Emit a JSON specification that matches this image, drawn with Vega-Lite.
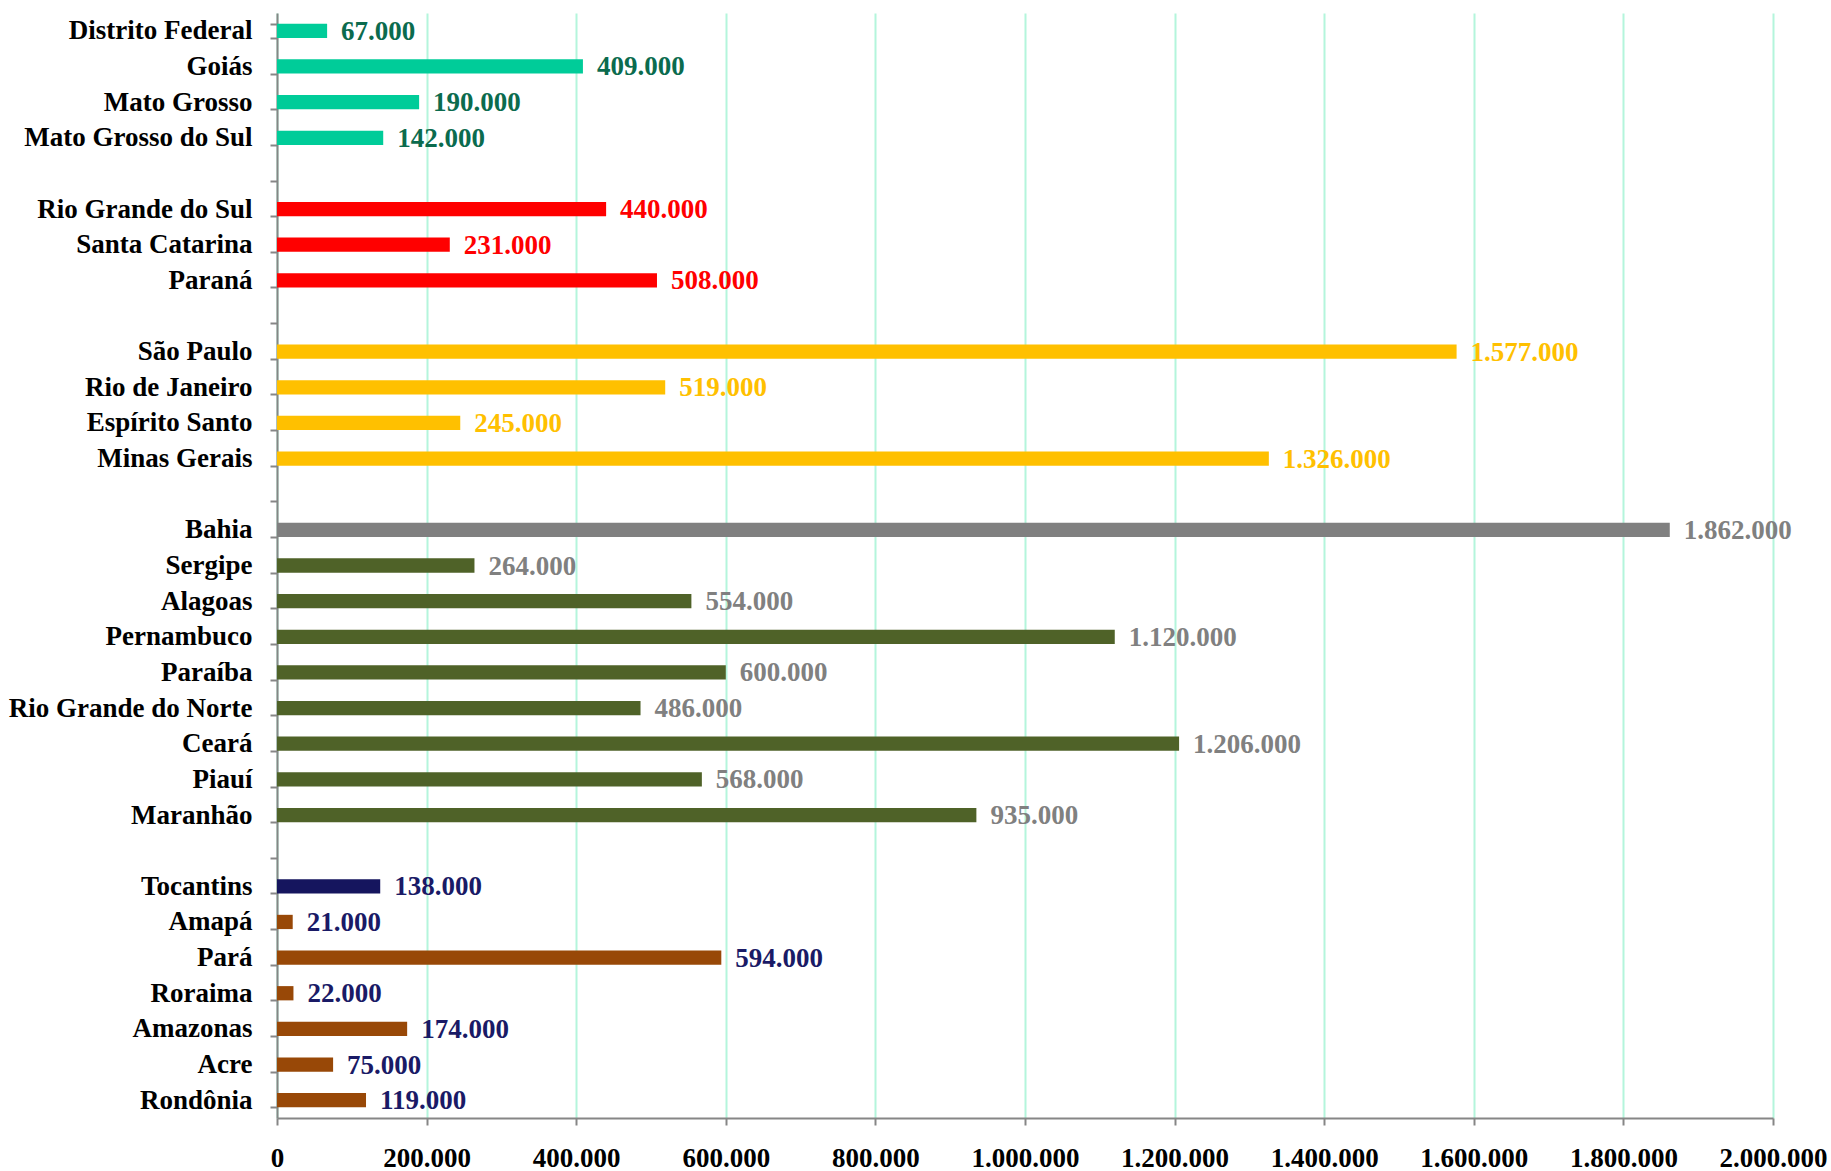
{
  "$schema": "https://vega.github.io/schema/vega-lite/v6.json",
  "width": 1496,
  "height": 1105,
  "autosize": {"type": "none"},
  "padding": {"left": 277, "top": 13, "right": 58, "bottom": 53},
  "background": "white",
  "config": {
    "locale": {"number": {"decimal": ",", "thousands": ".", "grouping": [3], "currency": ["R$", ""]}},
    "view": {"stroke": null},
    "font": "Liberation Serif"
  },
  "data": {
    "values": [
      {"estado": "Distrito Federal", "valor": 67000, "regiao": "Centro-Oeste", "grupo": "Centro-Oeste"},
      {"estado": "Goiás", "valor": 409000, "regiao": "Centro-Oeste", "grupo": "Centro-Oeste"},
      {"estado": "Mato Grosso", "valor": 190000, "regiao": "Centro-Oeste", "grupo": "Centro-Oeste"},
      {"estado": "Mato Grosso do Sul", "valor": 142000, "regiao": "Centro-Oeste", "grupo": "Centro-Oeste"},
      {"estado": "Rio Grande do Sul", "valor": 440000, "regiao": "Sul", "grupo": "Sul"},
      {"estado": "Santa Catarina", "valor": 231000, "regiao": "Sul", "grupo": "Sul"},
      {"estado": "Paraná", "valor": 508000, "regiao": "Sul", "grupo": "Sul"},
      {"estado": "São Paulo", "valor": 1577000, "regiao": "Sudeste", "grupo": "Sudeste"},
      {"estado": "Rio de Janeiro", "valor": 519000, "regiao": "Sudeste", "grupo": "Sudeste"},
      {"estado": "Espírito Santo", "valor": 245000, "regiao": "Sudeste", "grupo": "Sudeste"},
      {"estado": "Minas Gerais", "valor": 1326000, "regiao": "Sudeste", "grupo": "Sudeste"},
      {"estado": "Bahia", "valor": 1862000, "regiao": "Nordeste", "grupo": "Bahia"},
      {"estado": "Sergipe", "valor": 264000, "regiao": "Nordeste", "grupo": "Nordeste"},
      {"estado": "Alagoas", "valor": 554000, "regiao": "Nordeste", "grupo": "Nordeste"},
      {"estado": "Pernambuco", "valor": 1120000, "regiao": "Nordeste", "grupo": "Nordeste"},
      {"estado": "Paraíba", "valor": 600000, "regiao": "Nordeste", "grupo": "Nordeste"},
      {"estado": "Rio Grande do Norte", "valor": 486000, "regiao": "Nordeste", "grupo": "Nordeste"},
      {"estado": "Ceará", "valor": 1206000, "regiao": "Nordeste", "grupo": "Nordeste"},
      {"estado": "Piauí", "valor": 568000, "regiao": "Nordeste", "grupo": "Nordeste"},
      {"estado": "Maranhão", "valor": 935000, "regiao": "Nordeste", "grupo": "Nordeste"},
      {"estado": "Tocantins", "valor": 138000, "regiao": "Norte", "grupo": "Tocantins"},
      {"estado": "Amapá", "valor": 21000, "regiao": "Norte", "grupo": "Norte"},
      {"estado": "Pará", "valor": 594000, "regiao": "Norte", "grupo": "Norte"},
      {"estado": "Roraima", "valor": 22000, "regiao": "Norte", "grupo": "Norte"},
      {"estado": "Amazonas", "valor": 174000, "regiao": "Norte", "grupo": "Norte"},
      {"estado": "Acre", "valor": 75000, "regiao": "Norte", "grupo": "Norte"},
      {"estado": "Rondônia", "valor": 119000, "regiao": "Norte", "grupo": "Norte"}
    ]
  },
  "encoding": {
    "y": {
      "field": "estado",
      "type": "nominal",
      "scale": {
        "domain": ["Distrito Federal", "Goiás", "Mato Grosso", "Mato Grosso do Sul", "_gap1",
                   "Rio Grande do Sul", "Santa Catarina", "Paraná", "_gap2",
                   "São Paulo", "Rio de Janeiro", "Espírito Santo", "Minas Gerais", "_gap3",
                   "Bahia", "Sergipe", "Alagoas", "Pernambuco", "Paraíba", "Rio Grande do Norte", "Ceará", "Piauí", "Maranhão", "_gap4",
                   "Tocantins", "Amapá", "Pará", "Roraima", "Amazonas", "Acre", "Rondônia"],
        "paddingInner": 0.6,
        "paddingOuter": 0.3
      },
      "axis": {
        "title": null,
        "labelExpr": "indexof(datum.label, '_gap') == 0 ? '' : datum.label",
        "labelFont": "Liberation Serif",
        "labelFontWeight": "bold",
        "labelFontSize": 27,
        "labelColor": "#000000",
        "labelPadding": 18,
        "labelLimit": 0,
        "tickBand": "extent",
        "tickSize": 7,
        "tickColor": "#868686",
        "tickWidth": 2,
        "domainColor": "#868686",
        "domainWidth": 2,
        "grid": false
      }
    },
    "x": {
      "field": "valor",
      "type": "quantitative",
      "scale": {"domain": [0, 2000000], "nice": false},
      "axis": {
        "title": null,
        "values": [0, 200000, 400000, 600000, 800000, 1000000, 1200000, 1400000, 1600000, 1800000, 2000000],
        "format": ",d",
        "labelFont": "Liberation Serif",
        "labelFontWeight": "bold",
        "labelFontSize": 27,
        "labelColor": "#000000",
        "labelPadding": 20,
        "labelFlush": false,
        "tickSize": 7,
        "tickColor": "#868686",
        "tickWidth": 2,
        "domainColor": "#868686",
        "domainWidth": 2,
        "grid": true,
        "gridColor": "#B4F5DC",
        "gridWidth": 2
      }
    }
  },
  "layer": [
    {
      "mark": {"type": "bar"},
      "encoding": {
        "color": {
          "field": "grupo",
          "type": "nominal",
          "legend": null,
          "scale": {
            "domain": ["Centro-Oeste", "Sul", "Sudeste", "Bahia", "Nordeste", "Tocantins", "Norte"],
            "range": ["#00CC99", "#FF0000", "#FFC000", "#808080", "#4F6228", "#15155E", "#984807"]
          }
        }
      }
    },
    {
      "mark": {"type": "text", "align": "left", "baseline": "middle", "dx": 14, "dy": 1, "font": "Liberation Serif", "fontWeight": "bold", "fontSize": 27},
      "encoding": {
        "text": {"field": "valor", "type": "quantitative", "format": ",d"},
        "color": {
          "field": "regiao",
          "type": "nominal",
          "legend": null,
          "scale": {
            "domain": ["Centro-Oeste", "Sul", "Sudeste", "Nordeste", "Norte"],
            "range": ["#0B6B4E", "#FF0000", "#FFC000", "#808080", "#1A1A66"]
          }
        }
      }
    }
  ],
  "resolve": {"scale": {"color": "independent"}}
}
